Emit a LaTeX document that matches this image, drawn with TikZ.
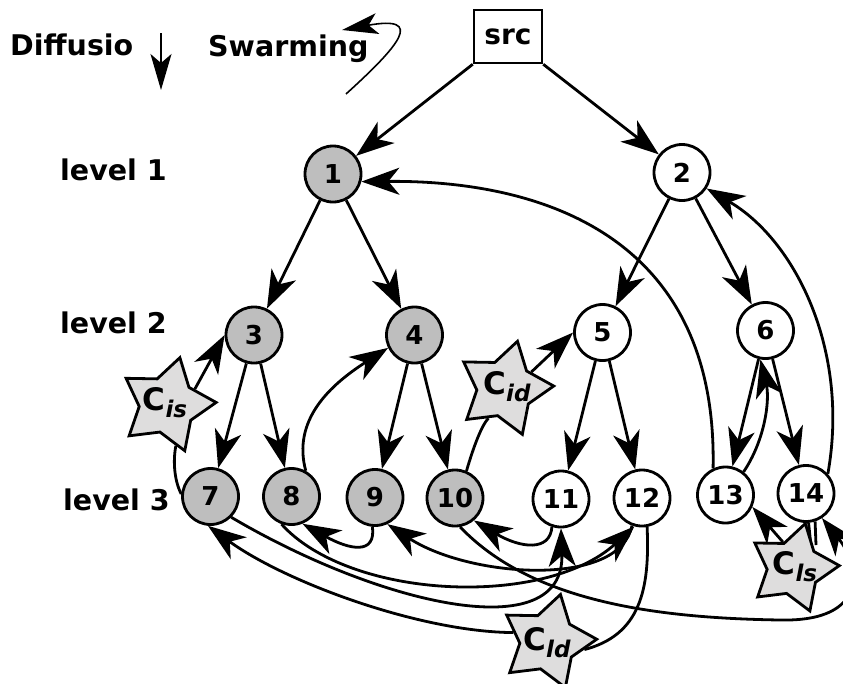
\documentclass[tikz,border=0pt]{standalone}
\usepackage{fontspec}
\setmainfont{DejaVu Sans}
\usetikzlibrary{arrows.meta,shapes.geometric}
\pgfdeclarelayer{bg}
\pgfsetlayers{bg,main}
\definecolor{nodegray}{RGB}{190,190,190}
\definecolor{stargray}{RGB}{222,221,221}
\newcommand{\Csub}[1]{C\raisebox{-7pt}{\fontsize{23}{23}\selectfont\itshape #1}}
\begin{document}
\begin{tikzpicture}[x=1pt,y=-1pt,
  numnode/.style={circle,draw,line width=2.8pt,minimum size=56pt,inner sep=0pt,font=\fontsize{26}{26}\selectfont\bfseries},
  grayn/.style={numnode,fill=nodegray},
  whiten/.style={numnode,fill=white},
  starn/.style={star,star points=5,star point ratio=1.75,draw,line width=2.8pt,fill=stargray,minimum size=98pt,inner sep=0pt,shape border rotate=-15},
  startext/.style={font=\fontsize{31}{31}\selectfont\bfseries,inner sep=0pt},
  lbl/.style={font=\fontsize{28.5}{28.5}\selectfont\bfseries,inner sep=0pt,anchor=base west},
  arr/.style={line width=2.8pt,-{Stealth[length=38pt,width=27pt,inset=11pt]}},
  plain/.style={line width=2.8pt},
  thinarr/.style={line width=1.6pt,-{Stealth[length=36pt,width=21pt,inset=9pt]}},
]
\useasboundingbox (0,0) rectangle (843,683);
% labels
\node[lbl] (t1) at (60,180) {level 1};
\node[lbl] (t2) at (60,333) {level 2};
\node[lbl] (t3) at (63,510) {level 3};
\node[lbl] (diff) at (10,55) {Diffusio};
\node[lbl] (swarm) at (208,56) {Swarming};
\node[draw,line width=2.5pt,minimum width=68pt,minimum height=53pt,inner sep=0pt,font=\fontsize{28}{28}\selectfont\bfseries] (src) at (508,36.5) {src};
% nodes
\node[grayn] (n1) at (333,174) {1};
\node[whiten] (n2) at (682,172.5) {2};
\node[grayn] (n3) at (254,335) {3};
\node[grayn] (n4) at (414.5,335) {4};
\node[whiten] (n5) at (602.5,332.5) {5};
\node[whiten] (n6) at (765.5,330.5) {6};
\node[grayn] (n7) at (210.5,496.5) {7};
\node[grayn] (n8) at (291.5,496.5) {8};
\node[grayn] (n9) at (375,497.5) {9};
\node[grayn] (n10) at (455,498) {10};
\node[whiten] (n11) at (561,499) {11};
\node[whiten] (n12) at (642,498) {12};
\node[whiten] (n13) at (725.5,495) {13};
\node[whiten] (n14) at (806,493.5) {14};
% stars
\node[starn] (cis) at (167.2,405) {};
\node[startext] (cisT) at (165,403) {\Csub{is}};
\node[starn] (cid) at (504.8,388.6) {};
\node[startext] (cidT) at (507,387) {\Csub{id}};
\node[starn,minimum size=92pt] (cls) at (793.4,568) {};
\node[startext] (clsT) at (795,567) {\Csub{ls}};
\node[starn] (cld) at (547.8,641.8) {};
\node[startext] (cldT) at (547,643) {\Csub{ld}};
\coordinate (da) at (161,33);
\coordinate (db) at (161,90);
\coordinate (sa) at (346,94);
\coordinate (sb) at (342,30);
\coordinate (clsA) at (811,546);
\coordinate (clsB) at (816,545);
\begin{pgfonlayer}{bg}
\clip (0,0) rectangle (843,683);
\draw[thinarr] (da) -- (db);
\draw[thinarr] (sa) .. controls (400,45) and (425,15) .. (sb);
% tree edges
\draw[arr] (src.south west) -- (n1);
\draw[arr] (src.south east) -- (n2);
\draw[arr] (n1) -- (n3);
\draw[arr] (n1) -- (n4);
\draw[arr] (n2) -- (n5);
\draw[arr] (n2) -- (n6);
\draw[arr] (n3) -- (n7);
\draw[arr] (n3) -- (n8);
\draw[arr] (n4) -- (n9);
\draw[arr] (n4) -- (n10);
\draw[arr] (n5) -- (n11);
\draw[arr] (n5) -- (n12);
\draw[arr] (n6) -- (n13);
\draw[arr] (n6) -- (n14);
% curved edges
\draw[arr] (n13.115) .. controls (718,235) and (540,180) .. (n1.-15);
\draw[arr] (n14.42) .. controls (850,350) and (795,240) .. (n2.-33);
\draw[arr] (n13.52) .. controls (765,440) and (770,400) .. (n6.-100);
\draw[arr] (n8.61) .. controls (292,420) and (330,385) .. (n4.-154);
\draw[plain] (n7.175) .. controls (174,480) and (173,460) .. (cis.-78);
\draw[arr] (cis.30) -- (n3.west);
\draw[plain] (n10.67) .. controls (474,445) and (482,425) .. (cid.-119);
\draw[arr] (cid.32) -- (n5.west);
\draw[plain] (n14.-85) -- (clsA);
\draw[plain] (n14.-72) -- (clsB);
\draw[arr] (cls.112) -- (n13.-24);
\draw[arr] (n10.-80) .. controls (530,600) and (650,618) .. (780,620) .. controls (870,622) and (860,565) .. (n14.-57);
\draw[arr] (n11.-108) .. controls (550,552) and (520,548) .. (n10.-50);
\draw[arr] (n9.-95) .. controls (376,555) and (350,550) .. (n8.-68);
\draw[arr] (n12.-110) .. controls (620,588) and (470,578) .. (n9.-65);
\draw[arr] (n8.-110) .. controls (350,600) and (545,608) .. (n12.-105);
\draw[arr] (n7.-45) .. controls (380,605) and (565,648) .. (n11.-90);
\draw[arr] (cld.165) .. controls (420,632) and (285,582) .. (n7.-95);
\draw[plain] (n12.-80) .. controls (650,590) and (640,635) .. (cld.-12);
\end{pgfonlayer}
\end{tikzpicture}
\end{document}
